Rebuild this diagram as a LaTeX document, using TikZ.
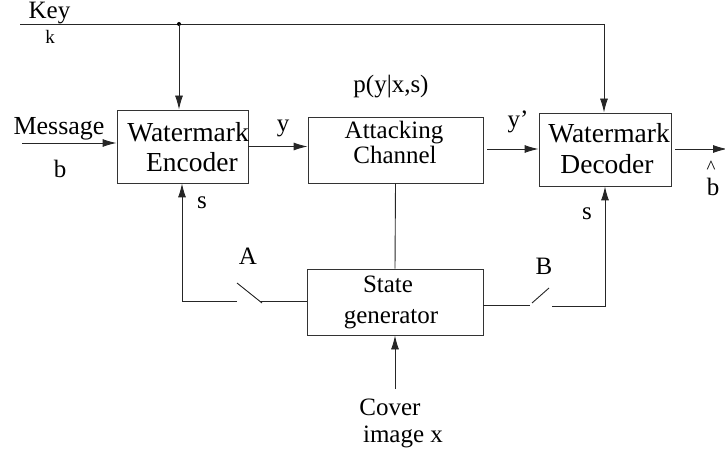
\documentclass[tikz,border=0pt]{standalone}
\usepackage{fontspec}
\setmainfont{Liberation Serif}
\usetikzlibrary{arrows.meta}
\begin{document}
\begin{tikzpicture}[x=1pt,y=-1pt,
  line/.style={line width=0.9pt, draw=black!85},
  arr/.style={line, -{Latex[length=14pt,width=8pt]}},
  box/.style={draw=black!80, line width=0.9pt, rectangle, inner sep=0pt},
  txt/.style={font=\fontsize{25}{30}\selectfont, inner sep=0pt, anchor=base},
  bigtxt/.style={font=\fontsize{27.5}{30}\selectfont, inner sep=0pt, anchor=base},
  smalltxt/.style={font=\fontsize{19}{22}\selectfont, inner sep=0pt, anchor=base}]
\useasboundingbox (0,0) rectangle (725,454);
% boxes
\node[box, minimum width=131pt, minimum height=73pt] (enc) at (182.5,146.5) {};
\node[box, minimum width=175pt, minimum height=66pt] (att) at (395.5,150) {};
\node[box, minimum width=132pt, minimum height=73pt] (dec) at (605,149.5) {};
\node[box, minimum width=176pt, minimum height=66pt] (st) at (395,302) {};
% box texts
\node[bigtxt] (encA) at (188,142) {Watermark};
\node[bigtxt] (encB) at (192,172) {Encoder};
\node[txt] (attA) at (394,139) {Attacking};
\node[txt] (attB) at (395,164) {Channel};
\node[bigtxt] (decA) at (609,143) {Watermark};
\node[bigtxt] (decB) at (607,174) {Decoder};
\node[txt] (stA) at (388,292) {State};
\node[txt] (stB) at (391,323) {generator};
% labels
\node[txt] (key) at (49.5,19) {Key};
\node[smalltxt] (k) at (50,44) {k};
\node[font=\fontsize{26}{30}\selectfont, inner sep=0pt, anchor=base] (msgt) at (59,135) {Message};
\node[txt] (bt) at (60,178) {b};
\node[txt] (ylab) at (283,132) {y};
\node[txt] (yplab) at (518,128) {y'};
\node[txt] (plab) at (391,93) {p(y|x,s)};
\node[txt] (s1) at (202,209) {s};
\node[txt] (s2) at (587,220) {s};
\node[txt] (alab) at (248,265) {A};
\node[txt] (blab) at (544,275) {B};
\node[txt] (cov1) at (390,415) {Cover};
\node[txt] (cov2) at (403,442) {image x};
\node[smalltxt] (hat) at (711,174) {\textasciicircum};
\node[txt] (bhat) at (713,196) {b};
% coordinates
\coordinate (keyL) at (20,24);
\coordinate (keyR) at (604,24);
\coordinate (dot) at (179,24);
\coordinate (msg) at (22,143);
\coordinate (yp) at (487,149);
\coordinate (outS) at (675,149);
\coordinate (outE) at (727,149);
\coordinate (aL) at (182,301);
\coordinate (a1) at (237,301);
\coordinate (a2) at (237,283);
\coordinate (a3) at (262,303);
\coordinate (a4) at (260,301);
\coordinate (b1) at (530,305);
\coordinate (b2) at (532,303);
\coordinate (b3) at (549,288);
\coordinate (b4) at (552,306);
\coordinate (bR) at (605,306);
\coordinate (cov) at (395,389);
% connectors
\draw[line] (keyL) -- (keyR);
\draw[arr] (keyR) -- (keyR |- dec.north);
\fill (dot) circle (2);
\draw[arr] (dot) -- (dot |- enc.north);
\draw[arr] (msg) -- (msg -| enc.west);
\draw[arr] (enc.east) -- (enc.east -| att.west);
\draw[arr] (yp) -- (yp -| dec.west);
\draw[arr] (outS) -- (outE);
\draw[line] (att.south) -- (st.north);
\draw[arr] (a1) -- (aL) -- (aL |- enc.south);
\draw[line] (a2) -- (a3);
\draw[line] (a4) -- (a4 -| st.west);
\draw[line] (st.east |- b1) -- (b1);
\draw[line] (b2) -- (b3);
\draw[arr] (b4) -- (bR) -- (bR |- dec.south);
\draw[arr] (cov) -- (cov |- st.south);
\end{tikzpicture}
\end{document}
